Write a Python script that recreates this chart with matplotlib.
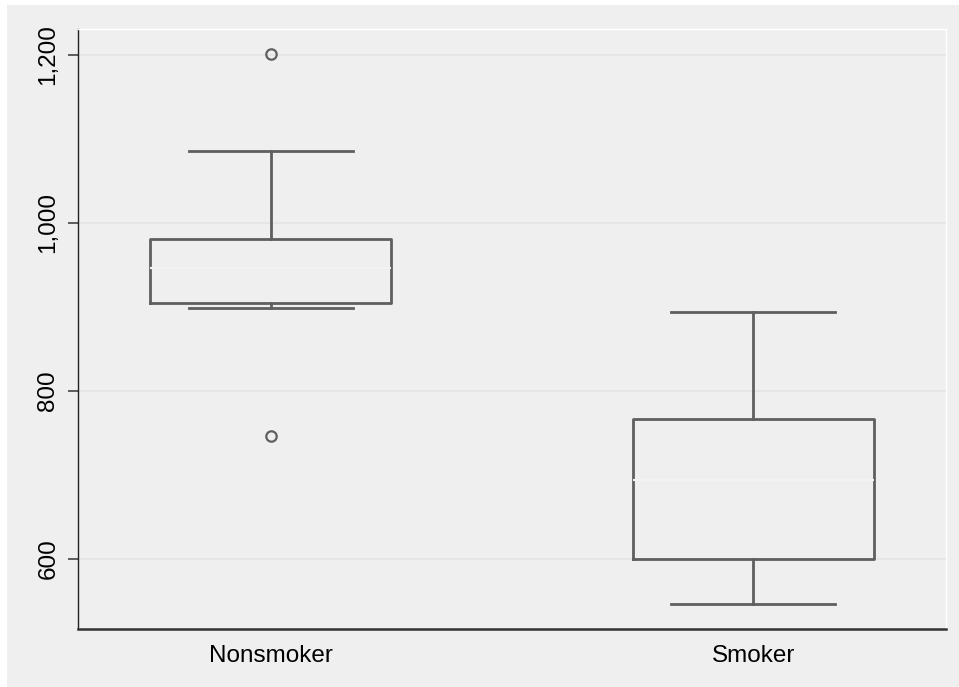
import matplotlib
matplotlib.use("Agg")
import matplotlib.pyplot as plt
from matplotlib.patches import Rectangle

# Summary statistics for each group
groups = ["Nonsmoker", "Smoker"]
whisker_low = [898, 546]
q1 = [904, 600]
median = [946, 694]
q3 = [980, 767]
whisker_high = [1085, 894]
outliers = [[1201, 746], []]

ytick_values = [600, 800, 1000, 1200]
ytick_labels = ["600", "800", "1,000", "1,200"]

BG = "#efefef"
LINE = "#5f5f5f"

plt.rcParams["font.family"] = ["Liberation Sans", "DejaVu Sans"]

fig = plt.figure(figsize=(9.59, 6.87), dpi=100, facecolor="white")
fig.patches.append(Rectangle((7 / 959, 0), 1 - 7 / 959, 1 - 5 / 687,
                             transform=fig.transFigure, facecolor=BG,
                             edgecolor="none", zorder=-10))

ax = fig.add_axes([78 / 959, 1 - 628.7 / 687, (946 - 78) / 959, (628.7 - 29.3) / 687])
ax.set_facecolor(BG)

stats = []
for i, g in enumerate(groups):
    stats.append(dict(label=g, whislo=whisker_low[i], q1=q1[i], med=median[i],
                      q3=q3[i], whishi=whisker_high[i], fliers=outliers[i]))

positions = [1, 2]
ax.bxp(stats, positions=positions, widths=0.5, capwidths=0.34,
       showfliers=True,
       boxprops=dict(color=LINE, linewidth=2.0),
       whiskerprops=dict(color=LINE, linewidth=2.0),
       capprops=dict(color=LINE, linewidth=2.0),
       medianprops=dict(color="#f2f2f2", linewidth=1.6, zorder=5),
       flierprops=dict(marker="o", markerfacecolor="none", markeredgecolor=LINE,
                       markersize=7.5, markeredgewidth=1.6))

ax.set_xlim(0.6, 2.4)
ax.set_ylim(517, 1230)

ax.set_yticks(ytick_values)
ax.set_yticklabels(ytick_labels, rotation=90, va="center", fontsize=17.5)
ax.set_xticks(positions)
ax.set_xticklabels(groups, fontsize=17.5)

ax.yaxis.grid(True, color="#e3e3e3", linewidth=1.2)
ax.set_axisbelow(True)

ax.tick_params(axis="y", length=7.5, width=1.2, color="#444444", pad=6)
ax.tick_params(axis="x", length=0, pad=11.5)

ax.spines["left"].set_color("#222222")
ax.spines["left"].set_linewidth(1.0)
ax.spines["bottom"].set_color("#333333")
ax.spines["bottom"].set_linewidth(1.8)
ax.spines["top"].set_color("white")
ax.spines["top"].set_linewidth(1.0)
ax.spines["right"].set_color("white")
ax.spines["right"].set_linewidth(1.0)

fig.savefig("out.png", dpi=100, facecolor="white")
